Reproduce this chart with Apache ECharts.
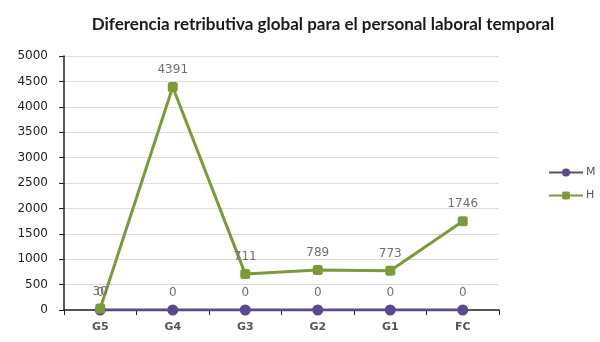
<!DOCTYPE html>
<html><head><meta charset="utf-8">
<script src="https://cdn.jsdelivr.net/npm/echarts@6/dist/echarts.min.js"></script>
<style>html,body{margin:0;padding:0;background:#fff}#c{width:600px;height:342px}</style>
</head><body><div id="c"></div>
<script>
const title = 'Diferencia retributiva global para el personal laboral temporal';
const categories = ['G5','G4','G3','G2','G1','FC'];
const seriesM = [0,0,0,0,0,0];
const seriesH = [30,4391,711,789,773,1746];
const yTicks = {min:0,max:5000,interval:500};

const chart = echarts.init(document.getElementById('c'));
const lbl = {show:true,position:'top',color:'#6f6f6f',fontSize:12,fontFamily:'DejaVu Sans',distance:6};
chart.setOption({
  animation:false,
  title:{text:title,left:318,textAlign:'center',top:11,textStyle:{fontFamily:'Lato',fontWeight:'bold',fontSize:17,color:'#1a1a1a'}},
  grid:{left:64,right:101,top:56,bottom:32},
  legend:{orient:'vertical',left:543,top:162,itemGap:12,itemWidth:34,itemHeight:10,
    textStyle:{color:'#555',fontFamily:'DejaVu Sans',fontSize:11,padding:[0,0,0,-2]},
    data:[{name:'M'},{name:'H'}]},
  xAxis:{type:'category',data:categories,boundaryGap:true,
    axisLine:{lineStyle:{color:'#222',width:1.5}},
    axisTick:{show:true,length:5,lineStyle:{color:'#222'}},
    axisLabel:{color:'#555',fontFamily:'DejaVu Sans',fontWeight:'bold',fontSize:11,margin:12}},
  yAxis:{type:'value',min:yTicks.min,max:yTicks.max,interval:yTicks.interval,
    axisLine:{show:true,lineStyle:{color:'#222',width:1.5}},
    axisTick:{show:true,length:5,lineStyle:{color:'#222'}},
    splitLine:{lineStyle:{color:'#dcdcdc'}},
    axisLabel:{color:'#222',fontFamily:'DejaVu Sans',fontSize:12,margin:16,formatter:v=>String(v)}},
  series:[
    {name:'M',type:'line',data:seriesM,symbol:'circle',symbolSize:11,
      lineStyle:{color:'#5a4a8a',width:3},itemStyle:{color:'#5a4a8a'},label:lbl},
    {name:'H',type:'line',data:seriesH,symbol:'roundRect',symbolSize:10,
      lineStyle:{color:'#7d9a3a',width:3},itemStyle:{color:'#7d9a3a'},label:lbl}
  ]
});
</script></body></html>
